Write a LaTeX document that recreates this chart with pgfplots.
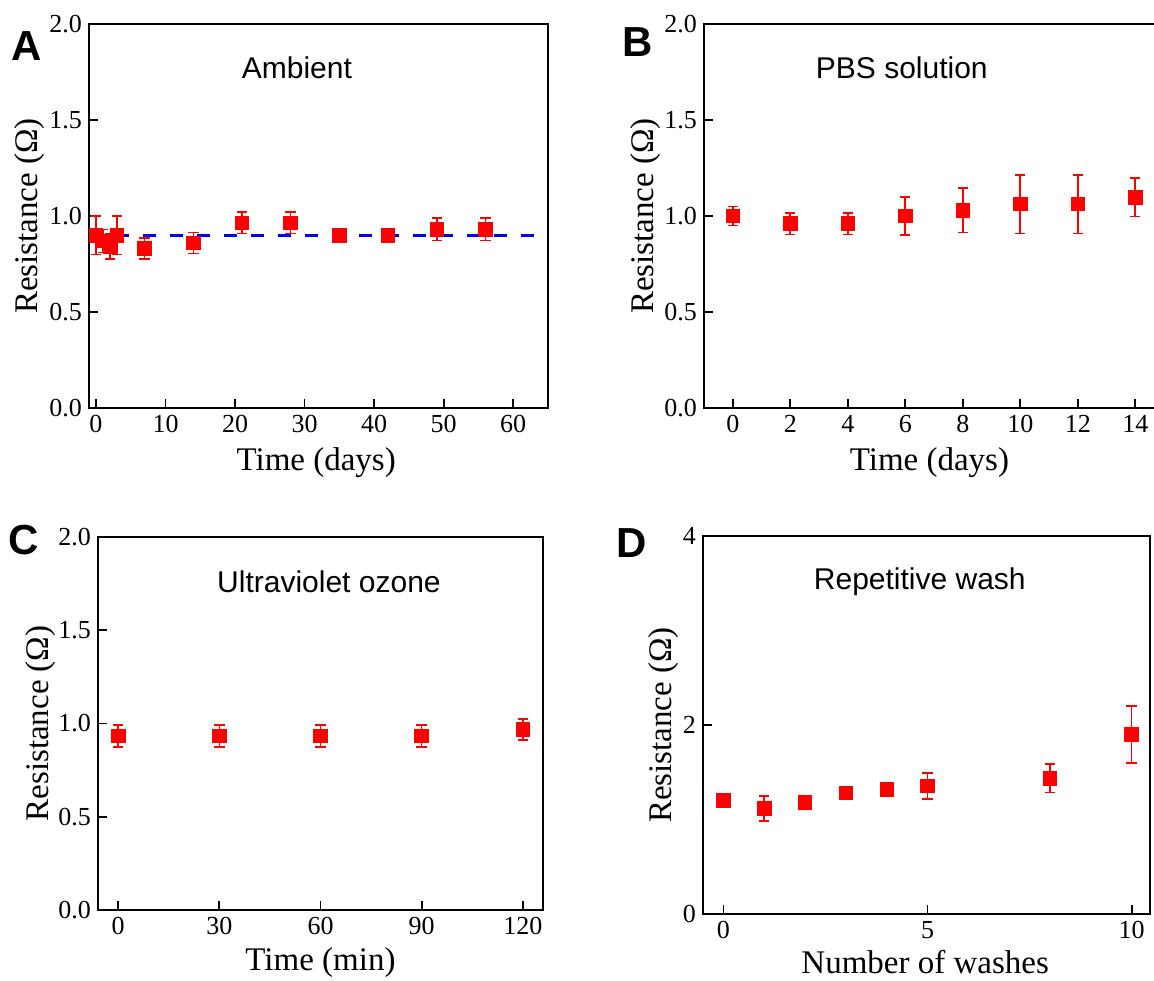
\documentclass[border=0pt]{standalone}
\usepackage{fontspec}
\setmainfont{Liberation Serif}
\newfontfamily\arial{Liberation Sans}
\usepackage{pgfplots}
\usepackage{pgfplotstable}
\pgfplotsset{compat=1.18}

\pgfplotstableread{
x y e
0 0.90 0.10
1 0.87 0.06
2 0.84 0.065
3 0.90 0.10
7 0.83 0.055
14 0.86 0.055
21 0.965 0.057
28 0.965 0.057
35 0.90 0.01
42 0.90 0.01
49 0.93 0.058
56 0.93 0.058
}\dataA
\pgfplotstableread{
x y e
0 1.00 0.05
2 0.96 0.056
4 0.96 0.056
6 1.00 0.10
8 1.03 0.115
10 1.062 0.153
12 1.062 0.153
14 1.097 0.10
}\dataB
\pgfplotstableread{
x y e
0 0.933 0.06
30 0.933 0.06
60 0.933 0.06
90 0.933 0.06
120 0.968 0.057
}\dataC
\pgfplotstableread{
x y e
0 1.20 0.03
1 1.117 0.13
2 1.18 0.03
3 1.28 0.03
4 1.32 0.03
5 1.355 0.135
8 1.436 0.15
10 1.90 0.30
}\dataD

\tikzset{ttl/.style={font=\arial\fontsize{15}{18}\selectfont, anchor=center}}
\pgfplotsset{
 panel/.style={
  scale only axis,
  anchor=south west,
  axis line style={line width=1pt},
  tick align=inside,
  tick pos=left,
  major tick length=4.5pt,
  tick style={line width=0.9pt, black},
  /pgf/number format/assume math mode=true,
  ticklabel style={font=\fontsize{13}{15}\selectfont},
  label style={font=\fontsize{16.5}{19}\selectfont},
  ylabel={Resistance (Ω)},
  clip=false,
 },
 onedec/.style={yticklabel style={/pgf/number format/.cd, fixed, fixed zerofill, precision=1}},
 dat/.style={red, only marks, mark=square*, mark size=3.4pt,
   mark options={solid, red},
   error bars/.cd, y dir=both, y explicit,
   error bar style={red, line width=0.8pt, solid},
   error mark options={red, rotate=90, mark size=2.6pt, line width=0.8pt}},
}

\begin{document}
\begin{tikzpicture}
% Panel A
\begin{axis}[panel, onedec, at={(44.5pt,286pt)}, width=229.5pt, height=192pt,
  xmin=-1, xmax=65, ymin=0, ymax=2,
  xtick={0,10,20,30,40,50,60}, ytick={0,0.5,1,1.5,2},
  xlabel={Time (days)},
  xlabel style={at={(axis description cs:0.495,-0.143)}, anchor=center},
  ylabel style={at={(axis description cs:-0.1285,0.5)}, anchor=center}]
\addplot[dat] table[x=x, y=y, y error=e] {\dataA};
\addplot[blue, line width=1.5pt, dash pattern=on 6.5pt off 7pt] coordinates {(-1,0.9) (65,0.9)};
\node[ttl] at (rel axis cs:0.453,0.885) {Ambient};
\end{axis}
% Panel B
\begin{axis}[panel, onedec, at={(352pt,286pt)}, width=230pt, height=192pt,
  xmin=-1, xmax=15, ymin=0, ymax=2,
  xtick={0,2,4,6,8,10,12,14}, ytick={0,0.5,1,1.5,2},
  xlabel={Time (days)},
  xlabel style={at={(axis description cs:0.49,-0.143)}, anchor=center},
  ylabel style={at={(axis description cs:-0.128,0.5)}, anchor=center}]
\addplot[dat] table[x=x, y=y, y error=e] {\dataB};
\node[ttl] at (rel axis cs:0.43,0.885) {PBS solution};
\end{axis}
% Panel C
\begin{axis}[panel, onedec, at={(49pt,35pt)}, width=222.5pt, height=186.5pt,
  xmin=-6, xmax=126, ymin=0, ymax=2,
  xtick={0,30,60,90,120}, ytick={0,0.5,1,1.5,2},
  xlabel={Time (min)},
  xlabel style={at={(axis description cs:0.5,-0.142)}, anchor=center},
  ylabel style={at={(axis description cs:-0.130,0.5)}, anchor=center}]
\addplot[dat] table[x=x, y=y, y error=e] {\dataC};
\node[ttl] at (rel axis cs:0.519,0.879) {Ultraviolet ozone};
\end{axis}
% Panel D
\begin{axis}[panel, at={(351.5pt,33pt)}, width=223.5pt, height=189pt,
  xmin=-0.5, xmax=10.45, ymin=0, ymax=4,
  xtick={0,5,10}, ytick={0,2,4},
  xlabel={Number of washes},
  xlabel style={at={(axis description cs:0.497,-0.128)}, anchor=center},
  ylabel style={at={(axis description cs:-0.089,0.5)}, anchor=center}]
\addplot[dat] table[x=x, y=y, y error=e] {\dataD};
\node[ttl] at (rel axis cs:0.485,0.878) {Repetitive wash};
\end{axis}
% panel letters
\node[font=\arial\bfseries\fontsize{21}{24}\selectfont, anchor=center] at (13.5pt,467pt) {A};
\node[font=\arial\bfseries\fontsize{21}{24}\selectfont, anchor=center] at (319pt,469pt) {B};
\node[font=\arial\bfseries\fontsize{21}{24}\selectfont, anchor=center] at (12pt,220pt) {C};
\node[font=\arial\bfseries\fontsize{21}{24}\selectfont, anchor=center] at (316pt,218.5pt) {D};
\pgfresetboundingbox
\path (0pt,0pt) rectangle (577pt,490pt);
\end{tikzpicture}
\end{document}
